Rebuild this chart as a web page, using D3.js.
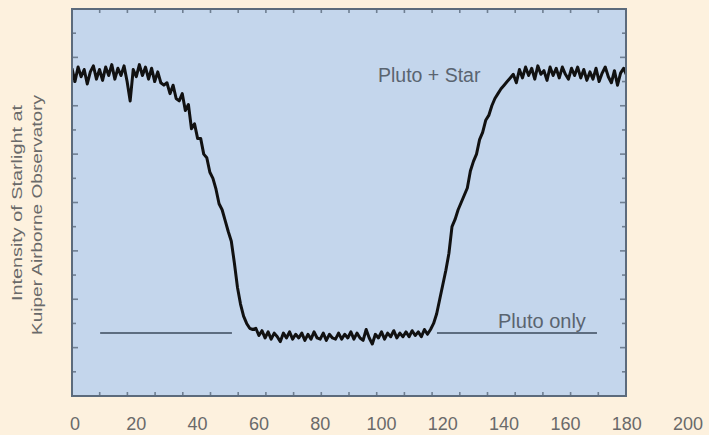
<!DOCTYPE html>
<html><head><meta charset="utf-8">
<script src="https://cdn.jsdelivr.net/npm/d3@7"></script>
<style>html,body{margin:0;padding:0;background:#fdf1de;}svg{display:block;}</style>
</head><body>
<script>
// time in seconds (t = -1 .. 180, 1 s steps) and relative intensity
const timeStart = -1;
const intensity = [
13.55,13.0,13.6,13.2,13.5,12.9,13.4,13.65,13.1,13.5,
13.05,13.6,13.25,13.7,13.1,13.55,13.25,13.65,13.0,12.2,
13.5,13.2,13.7,13.25,13.6,13.1,13.55,13.0,13.4,12.95,
12.85,12.95,12.5,12.85,12.3,12.2,12.5,11.8,12.05,11.05,
11.25,10.65,10.65,10.0,9.85,9.25,9.0,8.55,7.95,7.7,
7.25,6.8,6.4,5.5,4.5,3.8,3.3,3.0,2.8,2.75,
2.8,2.5,2.7,2.4,2.65,2.35,2.6,2.45,2.25,2.6,
2.4,2.65,2.35,2.55,2.4,2.6,2.3,2.55,2.35,2.65,
2.4,2.35,2.6,2.3,2.55,2.4,2.35,2.6,2.35,2.55,
2.4,2.65,2.35,2.6,2.4,2.3,2.75,2.4,2.15,2.55,
2.4,2.65,2.35,2.6,2.45,2.7,2.4,2.6,2.45,2.65,
2.45,2.7,2.5,2.65,2.45,2.75,2.55,2.75,3.0,3.4,
4.0,4.6,5.2,5.9,7.0,7.3,7.7,8.0,8.3,8.6,
9.3,9.7,10.0,10.6,10.9,11.4,11.6,12.0,12.3,12.5,
12.7,12.85,13.0,13.15,13.3,12.95,13.5,13.15,13.6,13.25,
13.55,13.1,13.65,13.3,13.45,13.05,13.6,13.25,13.55,13.15,
13.6,13.3,13.1,13.55,13.25,13.6,13.15,13.5,13.05,13.4,
13.1,13.55,13.0,13.35,13.6,13.2,12.95,13.45,12.85,13.35,
13.55,13.25
];
const plutoOnlyLevel = 2.6;
const plutoOnlySegments = [[8.2, 51.2], [118.1, 170.3]];
const xTickLabels = [0,20,40,60,80,100,120,140,160,180,200];
const frameXTicks = d3.range(1, 20);   // minor ticks on the frame
const frameYTicks = d3.range(1, 16);
const yTitle = ["Intensity of Starlight at", "Kuiper Airborne Observatory"];

const W = 709, H = 435;
const svg = d3.select("body").append("svg").attr("width", W).attr("height", H);
svg.append("rect").attr("width", W).attr("height", H).attr("fill", "#fdf1de");

const L = 72, R = 626, T = 9, B = 396;
const xFrame = d3.scaleLinear().domain([0, 20]).range([L, R]);
const y = d3.scaleLinear().domain([0, 16]).range([B, T]);
const x = d3.scaleLinear().domain([0, 200]).range([75, 688]);

svg.append("defs").append("clipPath").attr("id", "clip")
  .append("rect").attr("x", L).attr("y", T).attr("width", R - L).attr("height", B - T);

svg.append("rect").attr("x", L).attr("y", T).attr("width", R - L).attr("height", B - T)
  .attr("fill", "#c4d6ec");

const tickCol = "#6f7f92";
const g = svg.append("g").attr("stroke", tickCol).attr("stroke-width", 1.6);
frameXTicks.forEach(v => {
  g.append("line").attr("x1", xFrame(v)).attr("x2", xFrame(v)).attr("y1", T).attr("y2", T + 4);
  g.append("line").attr("x1", xFrame(v)).attr("x2", xFrame(v)).attr("y1", B).attr("y2", B - 4);
});
frameYTicks.forEach(v => {
  const len = v % 2 === 0 ? 6 : 4;
  g.append("line").attr("y1", y(v)).attr("y2", y(v)).attr("x1", L).attr("x2", L + len);
  g.append("line").attr("y1", y(v)).attr("y2", y(v)).attr("x1", R).attr("x2", R - len);
});

// Pluto-only reference lines
svg.append("g").selectAll("line").data(plutoOnlySegments).join("line")
  .attr("x1", d => x(d[0])).attr("x2", d => x(d[1]))
  .attr("y1", y(plutoOnlyLevel)).attr("y2", y(plutoOnlyLevel))
  .attr("stroke", "#5d6d80").attr("stroke-width", 2);

// light curve
const pts = intensity.map((v, i) => [timeStart + i, v]);
svg.append("path").datum(pts).attr("clip-path", "url(#clip)")
  .attr("fill", "none").attr("stroke", "#111").attr("stroke-width", 3)
  .attr("stroke-linejoin", "round")
  .attr("d", d3.line().x(d => x(d[0])).y(d => y(d[1])));

// frame border
svg.append("rect").attr("x", L).attr("y", T).attr("width", R - L).attr("height", B - T)
  .attr("fill", "none").attr("stroke", "#5c6b7c").attr("stroke-width", 2);

// x labels
svg.append("g").selectAll("text").data(xTickLabels).join("text")
  .attr("x", d => x(d)).attr("y", 430).attr("text-anchor", "middle")
  .attr("font-family", "Liberation Sans, Arial, sans-serif").attr("font-size", 18)
  .attr("fill", "#6a6a6a").text(d => d);

// annotations
svg.append("text").attr("x", 378).attr("y", 82)
  .attr("font-family", "Liberation Sans, Arial, sans-serif").attr("font-size", 19.5)
  .attr("fill", "#5a6470").text("Pluto + Star");
svg.append("text").attr("x", 498).attr("y", 328)
  .attr("font-family", "Liberation Sans, Arial, sans-serif").attr("font-size", 20)
  .attr("fill", "#5a6470").text("Pluto only");

// y title
const yt = [{t: yTitle[0], cx: 22, cy: 203, len: 196}, {t: yTitle[1], cx: 42, cy: 215, len: 240}];
svg.append("g").selectAll("text").data(yt).join("text")
  .attr("transform", d => `translate(${d.cx},${d.cy}) rotate(-90)`)
  .attr("text-anchor", "middle")
  .attr("font-family", "Liberation Sans, Arial, sans-serif").attr("font-size", 15)
  .attr("textLength", d => d.len).attr("lengthAdjust", "spacingAndGlyphs")
  .attr("fill", "#6a6a6a").text(d => d.t);
</script>
</body></html>
